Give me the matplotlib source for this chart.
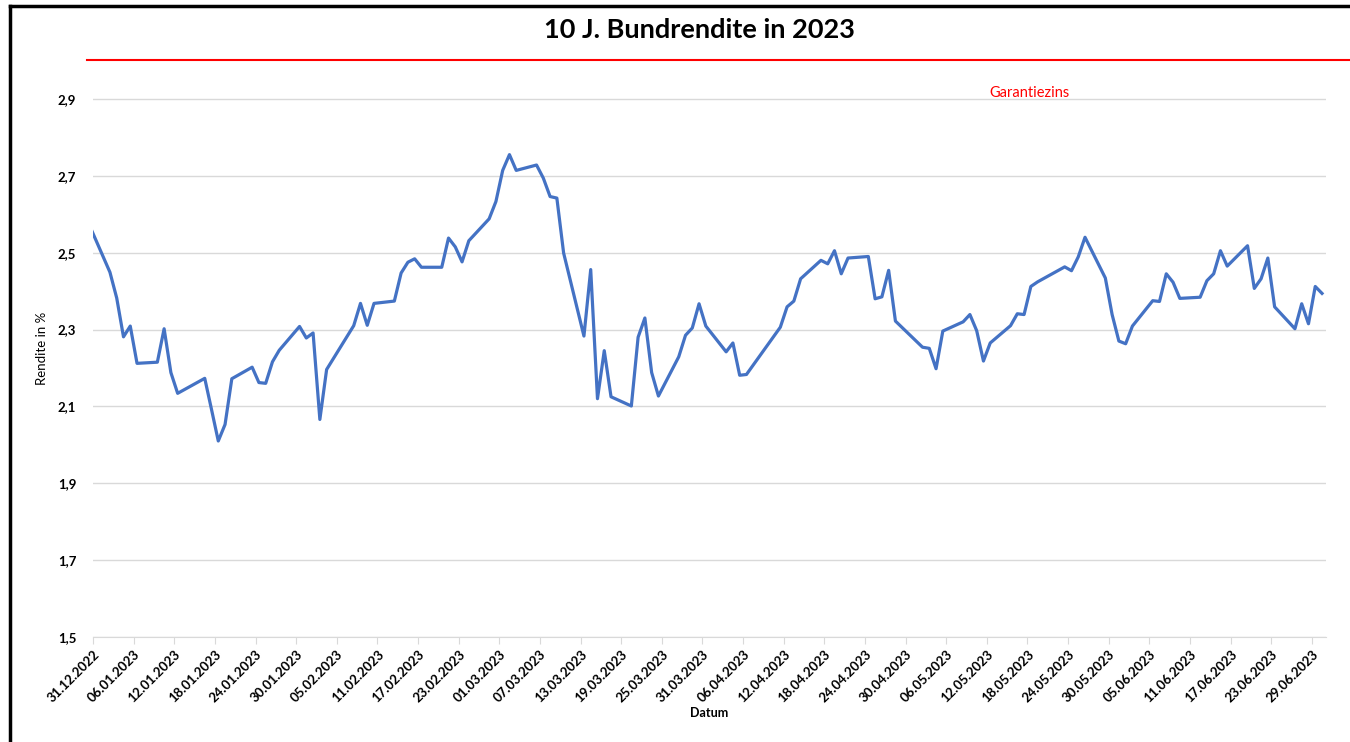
import pandas as pd
import matplotlib
matplotlib.use("Agg")
import matplotlib.pyplot as plt
import matplotlib.ticker as mticker
import matplotlib.dates as mdates
from matplotlib.lines import Line2D

plt.rcParams['font.family'] = ['Lato', 'DejaVu Sans']

# Daten
datum = [
    "30.12.2022", "02.01.2023", "03.01.2023", "04.01.2023", "05.01.2023", "06.01.2023",
    "09.01.2023", "10.01.2023", "11.01.2023", "12.01.2023", "16.01.2023", "17.01.2023",
    "18.01.2023", "19.01.2023", "20.01.2023", "23.01.2023", "24.01.2023", "25.01.2023",
    "26.01.2023", "27.01.2023", "30.01.2023", "31.01.2023", "01.02.2023", "02.02.2023",
    "03.02.2023", "07.02.2023", "08.02.2023", "09.02.2023", "10.02.2023", "13.02.2023",
    "14.02.2023", "15.02.2023", "16.02.2023", "17.02.2023", "20.02.2023", "21.02.2023",
    "22.02.2023", "23.02.2023", "24.02.2023", "27.02.2023", "28.02.2023", "01.03.2023",
    "02.03.2023", "03.03.2023", "06.03.2023", "07.03.2023", "08.03.2023", "09.03.2023",
    "10.03.2023", "13.03.2023", "14.03.2023", "15.03.2023", "16.03.2023", "17.03.2023",
    "20.03.2023", "21.03.2023", "22.03.2023", "23.03.2023", "24.03.2023", "27.03.2023",
    "28.03.2023", "29.03.2023", "30.03.2023", "31.03.2023", "03.04.2023", "04.04.2023",
    "05.04.2023", "06.04.2023", "11.04.2023", "12.04.2023", "13.04.2023", "14.04.2023",
    "17.04.2023", "18.04.2023", "19.04.2023", "20.04.2023", "21.04.2023", "24.04.2023",
    "25.04.2023", "26.04.2023", "27.04.2023", "28.04.2023", "02.05.2023", "03.05.2023",
    "04.05.2023", "05.05.2023", "08.05.2023", "09.05.2023", "10.05.2023", "11.05.2023",
    "12.05.2023", "15.05.2023", "16.05.2023", "17.05.2023", "18.05.2023", "19.05.2023",
    "23.05.2023", "24.05.2023", "25.05.2023", "26.05.2023", "29.05.2023", "30.05.2023",
    "31.05.2023", "01.06.2023", "02.06.2023", "05.06.2023", "06.06.2023", "07.06.2023",
    "08.06.2023", "09.06.2023", "12.06.2023", "13.06.2023", "14.06.2023", "15.06.2023",
    "16.06.2023", "19.06.2023", "20.06.2023", "21.06.2023", "22.06.2023", "23.06.2023",
    "26.06.2023", "27.06.2023", "28.06.2023", "29.06.2023", "30.06.2023",
]
rendite = [
    2.57, 2.449, 2.382, 2.281, 2.309, 2.212,
    2.215, 2.302, 2.188, 2.134, 2.173, 2.092,
    2.010, 2.053, 2.172, 2.202, 2.162, 2.160,
    2.216, 2.246, 2.308, 2.278, 2.291, 2.066,
    2.196, 2.310, 2.368, 2.311, 2.368, 2.374,
    2.447, 2.475, 2.484, 2.462, 2.462, 2.538,
    2.515, 2.476, 2.531, 2.588, 2.633, 2.714,
    2.755, 2.714, 2.728, 2.694, 2.646, 2.642,
    2.499, 2.283, 2.456, 2.120, 2.245, 2.125,
    2.101, 2.280, 2.330, 2.188, 2.127, 2.229,
    2.285, 2.304, 2.367, 2.309, 2.242, 2.265,
    2.181, 2.183, 2.306, 2.359, 2.374, 2.432,
    2.480, 2.471, 2.505, 2.445, 2.486, 2.490,
    2.380, 2.385, 2.454, 2.322, 2.254, 2.251,
    2.198, 2.296, 2.320, 2.339, 2.297, 2.218,
    2.265, 2.310, 2.341, 2.339, 2.412, 2.424,
    2.463, 2.453, 2.489, 2.540, 2.434, 2.339,
    2.270, 2.263, 2.309, 2.375, 2.373, 2.445,
    2.423, 2.381, 2.384, 2.427, 2.445, 2.505,
    2.465, 2.518, 2.407, 2.432, 2.486, 2.359,
    2.302, 2.367, 2.315, 2.412, 2.394,
]
garantiezins = 3.0
y_ticks = [1.5, 1.7, 1.9, 2.1, 2.3, 2.5, 2.7, 2.9]

df = pd.DataFrame({"Datum": pd.to_datetime(datum, format="%d.%m.%Y"), "Rendite": rendite})
x_ticks = pd.date_range("2022-12-31", "2023-06-29", freq="6D")

fig = plt.figure(figsize=(13.5, 7.42), dpi=100)
ax = fig.add_axes([0.0689, 0.1415, 0.9133, 0.8029])

ax.plot(df["Datum"] + pd.Timedelta(hours=12), df["Rendite"], color="#4472C4", lw=2.3,
        solid_joinstyle="round")

# Garantiezins
ax.axhline(garantiezins, xmin=-0.005, xmax=1.03, color="red", lw=1.5, clip_on=False)
ax.text(pd.Timestamp("2023-05-18 07:00"), 2.915, "Garantiezins", color="red", fontsize=10.5,
        ha="center", va="center")

ax.set_xlim(pd.Timestamp("2022-12-31"), pd.Timestamp("2023-07-01 02:00"))
ax.set_ylim(1.5, 3.05)
ax.set_yticks(y_ticks)
ax.yaxis.set_major_formatter(mticker.FuncFormatter(lambda v, p: f"{v:.1f}".replace(".", ",")))
ax.set_xticks(x_ticks)
ax.xaxis.set_major_formatter(mdates.DateFormatter("%d.%m.%Y"))
plt.setp(ax.get_xticklabels(), rotation=45, ha="right", rotation_mode="anchor",
         fontweight="bold", fontsize=9.5)
plt.setp(ax.get_yticklabels(), fontweight="bold", fontsize=9.5)

ax.grid(axis="y", color="#d9d9d9", lw=1)
ax.set_axisbelow(True)
for s in ["left", "right", "top"]:
    ax.spines[s].set_visible(False)
ax.spines["bottom"].set_color("#d9d9d9")
ax.tick_params(axis="x", colors="#d9d9d9", length=5, labelcolor="black", pad=3)
ax.tick_params(axis="y", length=0, pad=12)

ax.set_xlabel("Datum", fontweight="bold", fontsize=9, labelpad=2)
ax.set_ylabel("Rendite in %", fontsize=9.5)
ax.yaxis.set_label_coords(-0.0365, 0.485)

fig.text(0.518, 0.96, "10 J. Bundrendite in 2023", ha="center", va="center",
         fontsize=19.5, fontweight="bold")

# Rahmen links und oben
fig.add_artist(Line2D([0.0074, 0.0074], [0, 0.992], color="black", lw=2.5))
fig.add_artist(Line2D([0.0074, 1.0], [0.992, 0.992], color="black", lw=2.5))

fig.savefig("out.png", dpi=100)
